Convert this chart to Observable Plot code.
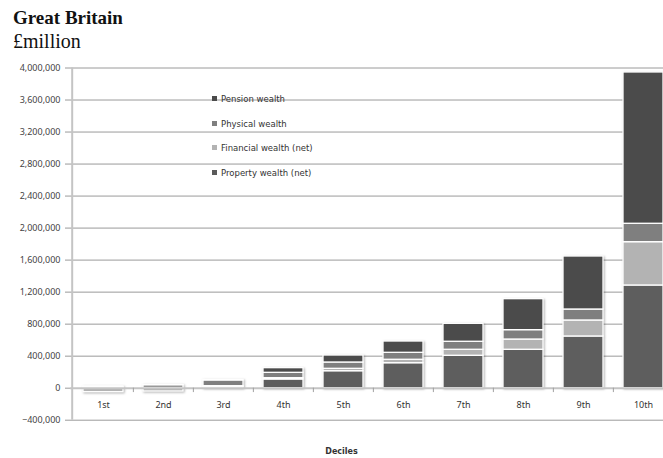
<!DOCTYPE html>
<html><head><meta charset="utf-8">
<script src="https://cdn.jsdelivr.net/npm/d3@7"></script>
<script src="https://cdn.jsdelivr.net/npm/@observablehq/plot@0.6"></script>
<style>
body{margin:0;background:#fff;width:663px;height:458px;overflow:hidden;position:relative;font-family:"DejaVu Sans",sans-serif}
#t1{position:absolute;left:13px;top:8px;font:bold 19px/1 "Liberation Serif",serif;color:#111;white-space:nowrap}
#t2{position:absolute;left:13px;top:31px;font:20px/1 "Liberation Serif",serif;color:#111;white-space:nowrap}
#chart{position:absolute;left:0;top:56px}
#legend{position:absolute;left:212px;top:93px;font-size:8.5px;color:#333}
#legend .it{position:absolute;left:0;white-space:nowrap;height:12px;line-height:12px}
#legend .sw{display:inline-block;width:5px;height:5px;margin-right:4px;vertical-align:1px}
#xlab{position:absolute;left:0;width:683px;text-align:center;top:447px;font:bold 8px "DejaVu Sans",sans-serif;color:#333}
.plotchart g[aria-label="bar"]{filter:drop-shadow(1px 1px 1px rgba(0,0,0,0.3))}
</style></head>
<body>
<div id="t1">Great Britain</div>
<div id="t2">£million</div>
<div id="chart"></div>
<div id="legend"></div>
<div id="xlab">Deciles</div>
<script>
const deciles = ["1st","2nd","3rd","4th","5th","6th","7th","8th","9th","10th"];
const seriesNames = ["Property wealth (net)","Financial wealth (net)","Physical wealth","Pension wealth"];
const seriesColors = ["#5e5e5e","#b3b3b3","#7f7f7f","#4b4b4b"];
const property  = [2000, 3000, 18000, 109000, 212000, 312000, 405000, 480000, 646000, 1283000];
const financial = [-50000, -41000, 7000, 16000, 30000, 43000, 75000, 128000, 200000, 541000];
const physical  = [15000, 34000, 72000, 67000, 79000, 87000, 100000, 117000, 137000, 230000];
const pension   = [4000, 4000, 8000, 58000, 87000, 141000, 224000, 387000, 662000, 1890000];
const yTicks = [-400000,0,400000,800000,1200000,1600000,2000000,2400000,2800000,3200000,3600000,4000000];
const legendOrder = ["Pension wealth","Physical wealth","Financial wealth (net)","Property wealth (net)"];
const legendColors = ["#4b4b4b","#7f7f7f","#b3b3b3","#5a5a5a"];

const seriesArrays = [property, financial, physical, pension];
const data = [];
deciles.forEach((d, i) => {
  seriesNames.forEach((s, j) => data.push({decile: d, series: s, value: seriesArrays[j][i]}));
});

const W = 663, H = 380;
const mTop = 11.5, mBottom = 16.3, mLeft = 70;
const xr = [70, 675];
const pIn = 0.336, pOut = 0.1875;
const step = (xr[1] - xr[0]) / (deciles.length - pIn + 2 * pOut);
const bw = step * (1 - pIn);

const chart = Plot.plot({
  width: W, height: H,
  marginTop: mTop, marginBottom: mBottom, marginLeft: mLeft, marginRight: 0,
  className: "plotchart",
  style: {background: "transparent", overflow: "hidden"},
  x: {type: "band", domain: deciles, range: xr, paddingInner: pIn, paddingOuter: pOut, axis: null},
  y: {domain: [-400000, 4000000], axis: null},
  color: {domain: seriesNames, range: seriesColors},
  marks: [
    Plot.ruleY(yTicks.filter(v => v !== 0), {stroke: "#9a9a9a", strokeWidth: 1}),
    Plot.barY(data, {x: "decile", y: "value", fill: "series", stroke: "white", strokeWidth: 1.3}),
    Plot.ruleY([0], {stroke: "#c4c4c4", strokeWidth: 2}),
    Plot.ruleX([deciles[0]], {x: d => d, y1: -400000, y2: 4000000, dx: -(bw / 2 + step * pOut), stroke: "#c4c4c4", strokeWidth: 2}),
    Plot.ruleX(deciles.slice(1), {x: d => d, y1: 0, y2: -55000, dx: -step / 2, stroke: "#a0a0a0"}),
    Plot.axisY({ticks: yTicks, tickFormat: d3.format(","), tickSize: 5, tickPadding: 5, fontSize: 9, fill: "#444", stroke: "#9a9a9a", anchor: "left", label: null}),
    Plot.text(deciles, {x: d => d, y: d => 0, text: d => d, dy: 17, fontSize: 9, fill: "#333"})
  ]
});
document.getElementById("chart").appendChild(chart);

const lg = document.getElementById("legend");
const tops = [0, 24.7, 49.4, 74.3];
legendOrder.forEach((name, i) => {
  const it = document.createElement("div");
  it.className = "it";
  it.style.top = tops[i] + "px";
  const sw = document.createElement("span");
  sw.className = "sw";
  sw.style.background = legendColors[i];
  it.appendChild(sw);
  it.appendChild(document.createTextNode(name));
  lg.appendChild(it);
});
</script>
</body></html>
